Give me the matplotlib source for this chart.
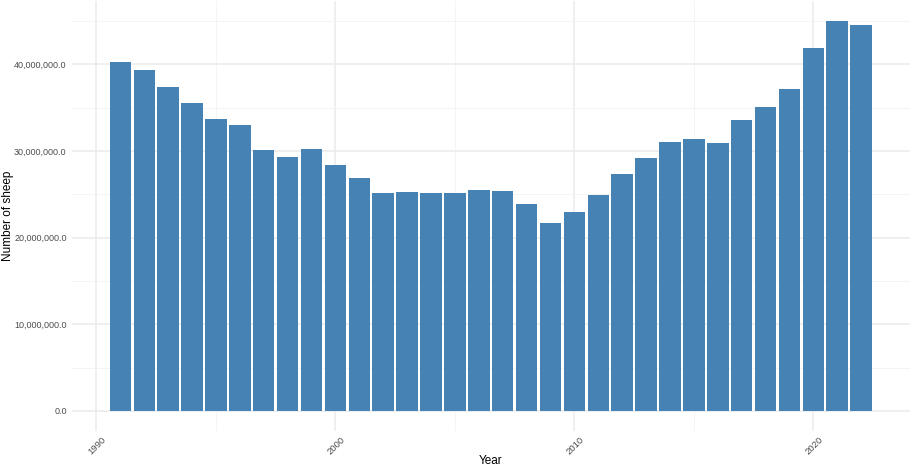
import matplotlib
matplotlib.use("Agg")
import matplotlib.pyplot as plt
import matplotlib.transforms as mtransforms
from matplotlib.ticker import FuncFormatter, MultipleLocator

plt.rcParams["font.family"] = ["Liberation Sans", "DejaVu Sans"]

years = list(range(1991, 2023))
sheep_millions = [40.3, 39.3, 37.4, 35.5, 33.7, 32.95, 30.1, 29.3, 30.2, 28.4,
                  26.9, 25.1, 25.3, 25.1, 25.2, 25.5, 25.4, 23.9, 21.7, 23.0,
                  24.95, 27.3, 29.2, 31.0, 31.4, 30.9, 33.6, 35.1, 37.1, 41.9,
                  45.0, 44.5]
sheep = [v * 1e6 for v in sheep_millions]
x_ticks = [1990, 2000, 2010, 2020]

W, H = 913, 468
left_px, right_px, top_px, bottom_px = 71.5, 910, 1.4, 430.5
fig = plt.figure(figsize=(W / 100, H / 100), dpi=100)
ax = fig.add_axes([left_px / W, (H - bottom_px) / H,
                   (right_px - left_px) / W, (bottom_px - top_px) / H])

ax.bar(years, sheep, width=0.9, color="#4682B4", zorder=3)

xmin, xmax = years[0] - 0.45, years[-1] + 0.45
xr = xmax - xmin
ax.set_xlim(xmin - 0.05 * xr, xmax + 0.05 * xr)
ymax = max(sheep)
ax.set_ylim(-0.05 * ymax, ymax * 1.05)

ax.xaxis.set_minor_locator(MultipleLocator(5))
ax.yaxis.set_major_locator(MultipleLocator(10e6))
ax.yaxis.set_minor_locator(MultipleLocator(5e6))
ax.set_xticks(x_ticks)
ax.set_xticklabels([str(t) for t in x_ticks])
ax.yaxis.set_major_formatter(FuncFormatter(lambda v, p: f"{v:,.1f}"))

ax.grid(which="major", color="#EBEBEB", linewidth=1.1, zorder=0)
ax.grid(which="minor", color="#F3F3F3", linewidth=0.6, zorder=0)
for s in ax.spines.values():
    s.set_visible(False)
ax.tick_params(which="both", length=0)
ax.tick_params(axis="y", labelsize=6.5, labelcolor="#4D4D4D", pad=3.5)
ax.tick_params(axis="x", labelsize=6.8, labelcolor="#4D4D4D", pad=3.0)
offset = mtransforms.ScaledTranslation(5 / 100, 0, fig.dpi_scale_trans)
for lbl in ax.get_xticklabels():
    lbl.set_rotation(45)
    lbl.set_ha("right")
    lbl.set_va("top")
    lbl.set_rotation_mode("anchor")
    lbl.set_transform(lbl.get_transform() + offset)

ax.set_xlabel("Year", fontsize=8.5, color="black", va="center")
ax.xaxis.set_label_coords(0.5, (bottom_px - 461.5) / (bottom_px - top_px))
ax.set_ylabel("Number of sheep", fontsize=8.5, color="black", va="center")
ax.yaxis.set_label_coords((8.5 - left_px) / (right_px - left_px), 0.5)

fig.savefig("out.png", dpi=100)
